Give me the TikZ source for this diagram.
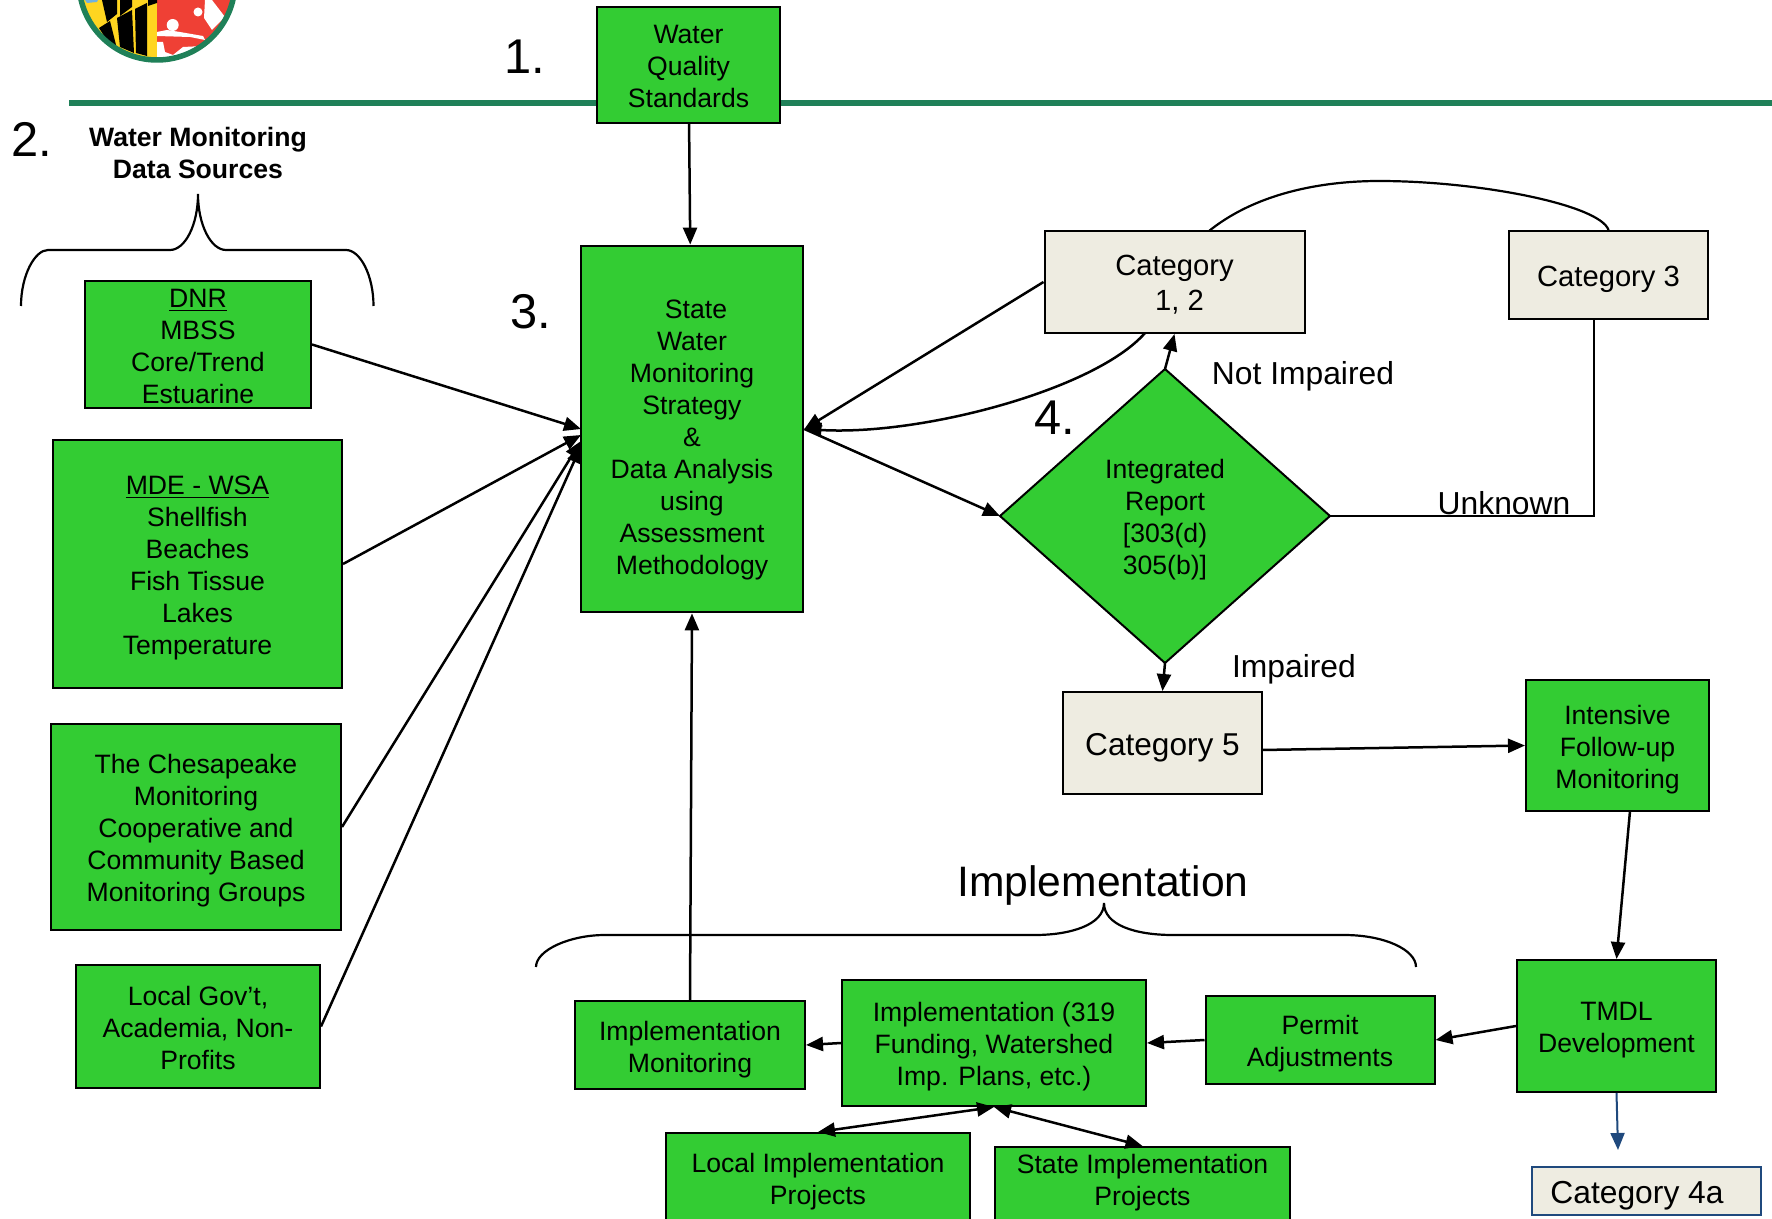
\documentclass[tikz,border=0pt]{standalone}
\usepackage{fontspec}
\setmainfont{Liberation Sans}
\usetikzlibrary{bayesnet,arrows.meta,shapes.geometric}
\definecolor{umdgreen}{HTML}{1F8058}
\definecolor{boxgreen}{HTML}{33CC33}
\definecolor{catbeige}{HTML}{EEECE1}
\definecolor{catblue}{HTML}{1F497D}
\definecolor{flagred}{HTML}{EF4035}
\definecolor{flagyellow}{HTML}{FFD520}
\definecolor{flagsky}{HTML}{6FB1DE}
\newcommand{\textdrop}[1][-3pt]{\mbox{}\\[#1]}
\tikzset{
  databox/.style={draw=black, fill=boxgreen, line width=1pt, inner sep=0pt, align=center,
    font=\fontsize{13.3}{16}\selectfont},
  catbox/.style={draw=black, fill=catbeige, line width=1pt, inner sep=0pt, align=center,
    font=\fontsize{14.6}{17.5}\selectfont},
  numlabel/.style={anchor=base west, inner sep=0pt, font=\fontsize{24.4}{28}\selectfont},
  tag/.style={anchor=base, inner sep=0pt, font=\fontsize{15.9}{19}\selectfont},
  link/.style={line width=1.25pt, >={Stealth[inset=0pt,length=8.5pt,width=7pt]}},
  plainline/.style={line width=1.1pt},
}
\begin{document}
\begin{tikzpicture}[x=0.5pt,y=-0.5pt]
    \path[use as bounding box, clip] (0,0) rectangle (1772,1219);

    % logo
    \begin{scope}
      \clip (157,-18) circle [radius=78];
      \fill[flagyellow] (70,-20) rectangle (157,70);
      \fill[flagred] (157,-20) rectangle (240,70);
      \fill[flagsky] (85,0) -- (98,0) -- (97,2) -- (87,3) -- cycle;
      \fill[black] (102,0) -- (117,0) -- (117,14) -- (107,22) -- cycle;
      \fill[black] (120,0) -- (132,0) -- (132,7) -- (120,16) -- cycle;
      \fill[black] (148,0) -- (157,0) -- (157,3) -- (148,6) -- cycle;
      \fill[black] (99,28) -- (110,21) -- (116,45) -- (110,45) -- cycle;
      \fill[black] (117,18) -- (132,10) -- (134,53) -- (120,47) -- cycle;
      \fill[black] (135,9) -- (147,3) -- (147,56) -- (136,53) -- cycle;
      \fill[white] (157,32) -- (167,30) -- (180,32) -- (203,36) -- (205,40) -- (190,37) -- (157,36) -- cycle;
      \fill[white] (172.7,25) circle [radius=6];
      \fill[white] (198,12) circle [radius=4.5];
      \fill[white] (157,42) -- (163,42) -- (165,52) -- (173,55) -- (183,47) -- (203,46) -- (213,38) -- (217,58) -- (157,60) -- cycle;
      \fill[white] (205,0) -- (212,0) -- (225,17) -- (212,30) -- (204,18) -- cycle;
    \end{scope}
    \draw[umdgreen, line width=2.75pt] (157,-18) circle [radius=78];

    \draw[umdgreen, line width=3pt] (69,103) -- (1772,103);

    \node[databox, minimum width=91.5pt, minimum height=58pt] (wqs) at (688.5,65) {\textdrop[-5.4pt]Water\\Quality\\Standards};
    \node[databox, line width=1.4pt, minimum width=111pt, minimum height=183pt] (state) at (692,429)
      {\textdrop[4.2pt]\hspace*{4pt}State\\Water\\Monitoring\\Strategy\\\&\\Data Analysis\\using\\Assessment\\Methodology};
    \node[databox, minimum width=113pt, minimum height=63.5pt] (dnr) at (198,344.5)
      {\textdrop[-5pt]\underline{DNR}\\MBSS\\Core/Trend\\Estuarine};
    \node[databox, minimum width=144.5pt, minimum height=124pt] (mde) at (197.5,564)
      {\textdrop[-2.5pt]\underline{MDE - WSA}\\Shellfish\\Beaches\\Fish Tissue\\Lakes\\Temperature};
    \node[databox, minimum width=145pt, minimum height=103pt] (bay) at (196,827)
      {\textdrop The Chesapeake\\Monitoring\\Cooperative and\\Community Based\\Monitoring Groups};
    \node[databox, minimum width=122pt, minimum height=61.5pt] (localgov) at (198,1026.5)
      {\textdrop[-4.5pt]Local Gov’t,\\Academia, Non-\\Profits};
    \node[catbox, minimum width=130pt, minimum height=51pt] (cat12) at (1174.5,282) {\textdrop[-5pt]Category\\\hspace*{5pt}1, 2};
    \node[catbox, minimum width=99.5pt, minimum height=44pt] (cat3) at (1608.5,275) {\textdrop Category 3};
    \node[diamond, draw=black, fill=boxgreen, line width=1pt, inner sep=0pt, outer sep=0pt, aspect=1.12,
      align=center, font=\fontsize{13.3}{16}\selectfont, minimum width=165pt, minimum height=147pt] (report) at (1165,516)
      {\textdrop[-2.5pt]Integrated\\Report\\{[}303(d)\\305(b)]};
    \node[catbox, font=\fontsize{15.8}{19}\selectfont, minimum width=99.5pt, minimum height=51pt] (cat5) at (1162.5,743) {\textdrop[-3.2pt]Category 5};
    \node[databox, minimum width=91.5pt, minimum height=65.5pt] (followup) at (1617.5,745.5) {\textdrop[-2pt]Intensive\\Follow-up\\Monitoring};
    \node[databox, minimum width=99.5pt, minimum height=66pt] (tmdl) at (1616.5,1026) {\textdrop TMDL\\Development};
    \node[databox, minimum width=114.5pt, minimum height=44pt] (permit) at (1320,1040) {\textdrop Permit\\Adjustments};
    \node[databox, minimum width=152pt, minimum height=63pt] (fundimpl) at (994,1043)
      {\textdrop Implementation (319\\Funding, Watershed\\Imp. Plans, etc.)};
    \node[databox, minimum width=115pt, minimum height=44pt] (implmon) at (690,1045) {\textdrop[-1.5pt]Implementation\\Monitoring};
    \node[databox, minimum width=152pt, minimum height=53.5pt] (localimpl) at (818,1186.5) {Local Implementation\\Projects\\[-8pt]\mbox{}};
    \node[databox, minimum width=147.5pt, minimum height=46.5pt] (stateimpl) at (1142.5,1193.5) {State Implementation\\Projects\\[-2.7pt]\mbox{}};
    \node[catbox, draw=catblue, font=\fontsize{15.9}{19}\selectfont, minimum width=114.5pt, minimum height=24pt] (cat4a) at (1646.5,1191) {\textdrop[-3.2pt]Category 4a\hspace*{9.5pt}};

    \node[numlabel] (num1) at (504,74) {1.};
    \node[numlabel] (num2) at (11,157) {2.};
    \node[numlabel] (num3) at (510,329) {3.};
    \node[numlabel] (num4) at (1034,435) {4.};
    \node[anchor=center, inner sep=0pt, align=center, font=\fontsize{13.3}{16}\selectfont\bfseries] (sources) at (198,153) {Water Monitoring\\Data Sources};
    \node[tag, font=\fontsize{21.3}{25}\selectfont] (impltitle) at (1103,896) {Implementation};
    \node[tag] (notimp) at (1303,385) {Not Impaired};
    \node[tag] (unknown) at (1504,514) {Unknown};
    \node[tag] (impaired) at (1294,677) {Impaired};

    \coordinate (in1) at (581,429);
    \coordinate (in2) at (581,435);
    \coordinate (in3) at (581,441);
    \coordinate (in4) at (581,446);
    \coordinate (cat5out) at (1262,750);
    \coordinate (followout) at (1630,811);
    \coordinate (elbow) at (1594,516);
    \coordinate (cat3out) at (1594,319);
    \coordinate (cat12low) at (1145,333);
    \coordinate (cat12top) at (1209,231);
    \coordinate (arcpeak) at (1379,181);
    \coordinate (catfour) at (1618,1150);

    % Connect the nodes
    \edge[link] {wqs} {state} ; %
    \edge[link] {dnr.east} {in1} ; %
    \edge[link] {mde.east} {in2} ; %
    \edge[link] {bay.east} {in3} ; %
    \edge[link] {localgov.east} {in4} ; %
    \edge[link] {cat12.west} {state.east} ; %
    \edge[link] {state.east} {report.west} ; %
    \edge[link] {report.north} {cat12.south} ; %
    \edge[link] {report.south} {cat5.north} ; %
    \edge[link] {cat5out} {followup.west} ; %
    \edge[link] {followout} {tmdl.north} ; %
    \edge[link] {tmdl.west} {permit.east} ; %
    \edge[link] {permit.west} {fundimpl.east} ; %
    \edge[link] {fundimpl.west} {implmon.east} ; %
    \edge[link] {implmon.north} {state.south} ; %
    \edge[link,<->] {fundimpl.south} {localimpl.north} ; %
    \edge[link,<->] {fundimpl.south} {stateimpl.north} ; %
    \edge[link,catblue,line width=1pt] {tmdl.south} {catfour} ; %
    \draw[link,->] (cat12low) .. controls (1095,390) and (920,436) .. (state.east);
    \draw[plainline] (cat12top) .. controls (1260,190) and (1330,181) .. (arcpeak) .. controls (1480,181) and (1600,205) .. (cat3.north);
    \draw[plainline] (report.east) -- (elbow) -- (cat3out);

    % braces
    \draw[plainline] (21,306) .. controls (21,275) and (35,250) .. (48,250) -- (170,250)
      .. controls (185,250) and (198,225) .. (198,194) .. controls (198,225) and (211,250) .. (226,250)
      -- (346,250) .. controls (360,250) and (373.5,275) .. (373.5,306);
    \draw[plainline] (536,967) .. controls (536,950) and (570,935) .. (605,935) -- (1035,935)
      .. controls (1070,935) and (1104,925) .. (1104,903) .. controls (1104,925) and (1135,935) .. (1173,935)
      -- (1344,935) .. controls (1385,935) and (1416,950) .. (1416,967);
\end{tikzpicture}
\end{document}
